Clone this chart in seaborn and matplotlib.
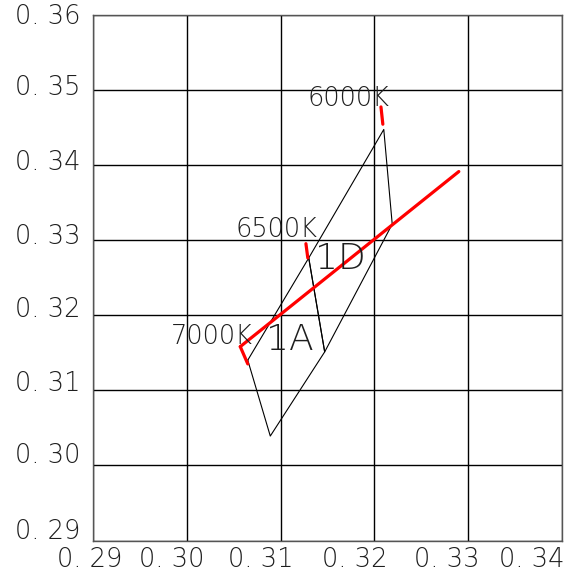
import matplotlib
matplotlib.use("Agg")
import matplotlib.pyplot as plt
import seaborn as sns
import pandas as pd

# Planckian locus segment (CIE x, y)
locus_x = [0.3057, 0.3290]
locus_y = [0.3158, 0.3391]

# Bin outlines
bin_1a_x = [0.3065, 0.3130, 0.3147, 0.3089, 0.3065]
bin_1a_y = [0.3140, 0.3276, 0.3151, 0.3039, 0.3140]
bin_1d_x = [0.3130, 0.3210, 0.3219, 0.3147, 0.3130]
bin_1d_y = [0.3276, 0.3447, 0.3321, 0.3151, 0.3276]

# CCT isotherm ticks and labels
cct_labels = ["7000K", "6500K", "6000K"]
iso_x = [[0.3057, 0.3065], [0.3127, 0.3129], [0.3207, 0.3209]]
iso_y = [[0.3158, 0.3135], [0.3295, 0.3276], [0.3477, 0.3454]]
cct_text_x = [0.3070, 0.30955, 0.31728]
cct_text_y = [0.3172, 0.3314, 0.3488]

bin_labels = ["1D", "1A"]
bin_text_x = [0.3164, 0.3110]
bin_text_y = [0.3275, 0.3167]

# grid ticks; the original's labels drift off their grid lines a little
x_ticks = [0.29, 0.30, 0.31, 0.32, 0.33, 0.34]
y_ticks = [0.29, 0.30, 0.31, 0.32, 0.33, 0.34, 0.35, 0.36]
x_label_pos = [0.28965, 0.29839, 0.30788, 0.31790, 0.32771, 0.33677]
y_label_pos = [0.29126, 0.30125, 0.31083, 0.32068, 0.33052, 0.34037, 0.35022, 0.35967]
x_tick_labels = ["0. 29", "0. 30", "0. 31", "0. 32", "0. 33", "0. 34"]
y_tick_labels = ["0. 29", "0. 30", "0. 31", "0. 32", "0. 33", "0. 34", "0. 35", "0. 36"]

TXT = "#1e1e1e"
FS = 18.5

sns.set_style("white")
plt.rcParams["font.family"] = ["DejaVu Sans"]

fig = plt.figure(figsize=(5.65, 5.73), dpi=100)
ax = fig.add_axes([93 / 565, 32.5 / 573, 469 / 565, 526 / 573])

for bx, by in [(bin_1a_x, bin_1a_y), (bin_1d_x, bin_1d_y)]:
    df = pd.DataFrame({"x": bx, "y": by})
    sns.lineplot(data=df, x="x", y="y", sort=False, estimator=None,
                 color="black", linewidth=0.8, ax=ax)

sns.lineplot(x=locus_x, y=locus_y, sort=False, estimator=None,
             color="#ff0000", linewidth=2.3, ax=ax)
for ix, iy in zip(iso_x, iso_y):
    sns.lineplot(x=ix, y=iy, sort=False, estimator=None,
                 color="#ff0000", linewidth=2.3, ax=ax)

ax.text(cct_text_x[0], cct_text_y[0], cct_labels[0], ha="right", va="center",
        fontsize=FS, fontweight=200, color=TXT)
for i in (1, 2):
    ax.text(cct_text_x[i], cct_text_y[i], cct_labels[i], ha="center", va="center",
            fontsize=FS, fontweight=200, color=TXT)
for t, tx, ty in zip(bin_labels, bin_text_x, bin_text_y):
    ax.text(tx, ty, t, ha="center", va="center", fontsize=26,
            fontweight=200, color=TXT)

ax.set_xlim(0.29, 0.34)
ax.set_ylim(0.29, 0.36)
ax.set_xticks(x_ticks)
ax.set_yticks(y_ticks)
ax.set_xticklabels([])
ax.set_yticklabels([])
ax.tick_params(axis="both", length=0)

for xp, t in zip(x_label_pos, x_tick_labels):
    ax.text(xp, -0.012, t, transform=ax.get_xaxis_transform(), ha="center",
            va="top", fontsize=FS, fontweight=200, color=TXT, clip_on=False)
for yp, t in zip(y_label_pos, y_tick_labels):
    ax.text(-0.026, yp, t, transform=ax.get_yaxis_transform(), ha="right",
            va="center", fontsize=FS, fontweight=200, color=TXT, clip_on=False)

ax.grid(True, color="black", linewidth=1)
for s in ax.spines.values():
    s.set_color("#555555")
    s.set_linewidth(1)
ax.set_xlabel("")
ax.set_ylabel("")

fig.savefig("out.png", dpi=100)
